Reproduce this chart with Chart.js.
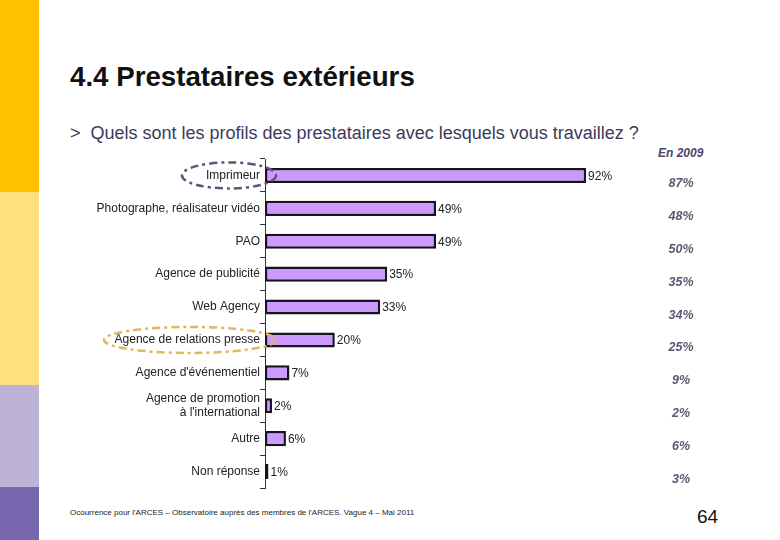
<!DOCTYPE html>
<html>
<head>
<meta charset="utf-8">
<script src="https://cdn.jsdelivr.net/npm/chart.js@4.4.0/dist/chart.umd.min.js"></script>
<style>
  body { margin: 0; width: 780px; height: 540px; background: #fff; position: relative; overflow: hidden; font-family: "Liberation Sans", Arial, sans-serif; }
  .stripe { position: absolute; left: 0; width: 39px; }
  #title { position: absolute; left: 70px; top: 61px; font-size: 27.7px; font-weight: bold; color: #111; }
  #subtitle { position: absolute; left: 70px; top: 123px; font-size: 18px; color: #3d3a5c; }
  #year { position: absolute; left: 658px; top: 146px; font-size: 12px; font-weight: bold; font-style: italic; color: #4a4868; }
  #source { position: absolute; left: 70px; top: 508px; font-size: 8px; color: #222; }
  #page { position: absolute; left: 697px; top: 506px; font-size: 19px; color: #111; }
  #wrap { position: absolute; left: 60px; top: 151px; width: 660px; height: 345px; }
</style>
</head>
<body>
<div class="stripe" style="top:0;height:192px;background:#FFC000"></div>
<div class="stripe" style="top:192px;height:193px;background:#FFE07E"></div>
<div class="stripe" style="top:385px;height:102px;background:#BCB3D7"></div>
<div class="stripe" style="top:487px;height:53px;background:#7767AE"></div>
<div id="title">4.4 Prestataires extérieurs</div>
<div id="subtitle">&gt;&nbsp; Quels sont les profils des prestataires avec lesquels vous travaillez ?</div>
<div id="year">En 2009</div>
<div id="source">Ocourrence pour l'ARCES – Observatoire auprès des membres de l'ARCES. Vague 4 – Mai 2011</div>
<div id="page">64</div>
<div id="wrap"><canvas id="prestChart"></canvas></div>
<script>
const categories = [
  "Imprimeur",
  "Photographe, réalisateur vidéo",
  "PAO",
  "Agence de publicité",
  "Web Agency",
  "Agence de relations presse",
  "Agence d'événementiel",
  ["Agence de promotion", "à l'international"],
  "Autre",
  "Non réponse"
];
const values2011 = [92, 49, 49, 35, 33, 20, 7, 2, 6, 1];
const values2009 = [87, 48, 50, 35, 34, 25, 9, 2, 6, 3];

// etiquettes de valeur + colonne 2009 + ellipses
const extrasPlugin = {
  id: "extras",
  afterDatasetsDraw(chart) {
    const ctx = chart.ctx;
    const meta = chart.getDatasetMeta(0);
    const yScale = chart.scales.y;
    ctx.save();
    ctx.font = "12px 'Liberation Sans', Arial, sans-serif";
    ctx.fillStyle = "#222";
    ctx.textAlign = "left";
    ctx.textBaseline = "middle";
    meta.data.forEach((bar, i) => {
      ctx.fillText(values2011[i] + "%", bar.x + 2, bar.y + 1);
    });

    ctx.font = "italic bold 12.5px 'Liberation Sans', Arial, sans-serif";
    ctx.fillStyle = "#5a5874";
    ctx.textAlign = "center";
    values2009.forEach((v, i) => {
      const y = yScale.getPixelForValue(i) + 8;
      ctx.fillText(v + "%", 621, y);
    });

    // ellipses pointillées
    const left = chart.chartArea.left;
    const drawEllipse = (idx, rx, color) => {
      const cy = yScale.getPixelForValue(idx);
      ctx.beginPath();
      ctx.ellipse(left - rx + 11, cy, rx, 13, 0, 0, Math.PI * 2);
      ctx.strokeStyle = color;
      ctx.lineWidth = 2.5;
      ctx.setLineDash([8, 4, 3, 4]);
      ctx.stroke();
    };
    drawEllipse(0, 47, "#5b5578");
    drawEllipse(5, 86, "#E2B75C");
    ctx.restore();
  }
};

new Chart(document.getElementById("prestChart"), {
  type: "bar",
  data: {
    labels: categories,
    datasets: [{
      data: values2011,
      backgroundColor: "#CC99FF",
      borderColor: "#1a1222",
      borderWidth: 2.5,
      borderSkipped: false,
      barPercentage: 0.46,
      categoryPercentage: 1
    }]
  },
  plugins: [extrasPlugin],
  options: {
    indexAxis: "y",
    responsive: true,
    maintainAspectRatio: false,
    animation: false,
    layout: { padding: { top: 8, bottom: 8, right: 106 } },
    scales: {
      x: { display: false, min: 0, max: 100 },
      y: {
        afterFit(scale) { scale.width = 205; },
        grid: { drawOnChartArea: false, tickLength: 5, color: "#333", offset: true },
        border: { display: true, color: "#333", width: 1 },
        ticks: {
          color: "#222",
          padding: 0,
          font: { family: "'Liberation Sans', Arial, sans-serif", size: 12 }
        }
      }
    },
    plugins: {
      legend: { display: false },
      tooltip: { enabled: false }
    }
  }
});
</script>
</body>
</html>
